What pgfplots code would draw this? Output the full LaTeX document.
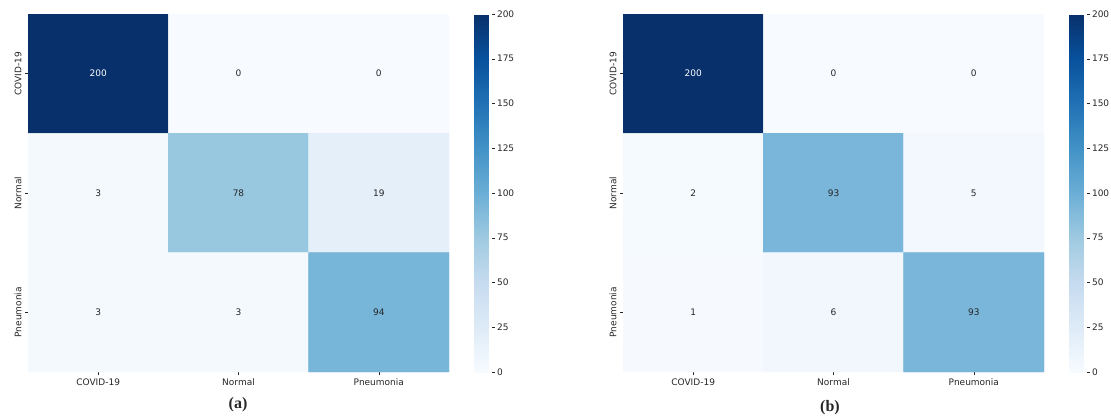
\documentclass[border=0pt]{standalone}
\usepackage{pgfplots}
\pgfplotsset{compat=1.18}
\usepackage{fontspec}
\setmainfont{DejaVu Sans}
\newfontfamily\capfont{Liberation Serif}
\definecolor{txt}{RGB}{38,38,38}
\pgfplotsset{
  colormap={blues}{rgb255=(247,251,255) rgb255=(222,235,247) rgb255=(198,219,239) rgb255=(158,202,225) rgb255=(107,174,214) rgb255=(66,146,198) rgb255=(33,113,181) rgb255=(8,81,156) rgb255=(8,48,107)},
  cm/.style={
    scale only axis, width=421bp, height=358bp,
    xmin=-0.5, xmax=2.5, ymin=-0.5, ymax=2.5, y dir=reverse,
    enlargelimits=false,
    xtick={0,1,2}, ytick={0,1,2},
    xticklabels={COVID-19,Normal,Pneumonia},
    yticklabels={COVID-19,Normal,Pneumonia},
    yticklabel style={rotate=90, anchor=south},
    tick pos=left,
    axis line style={draw=none},
    tick style={txt, line width=0.5pt}, tick align=outside, major tick length=3bp,
    font=\fontsize{9bp}{11bp}\selectfont,
    ticklabel style={text=txt},
    /pgf/number format/assume math mode=true,
    colormap name=blues, point meta min=0, point meta max=200,
    colorbar,
    colorbar style={
      at={(parent axis.north east)}, anchor=north west, xshift=17bp,
      scale only axis, width=17bp, height=358bp,
      ytick={0,25,...,200}, axis line style={draw=none},
      ytick pos=right, tick align=outside,
      tick style={txt, line width=0.5pt}, major tick length=3bp,
      font=\fontsize{9bp}{11bp}\selectfont,
      yticklabel style={text=txt, xshift=-1bp},
      /pgf/number format/assume math mode=true,
    },
    anchor=north west,
  },
  ann/.style={draw=none, mark=none, point meta=explicit, nodes near coords,
    nodes near coords align=center,
    every node near coord/.append style={font=\fontsize{9bp}{11bp}\selectfont, text=#1, anchor=center}},
}
\begin{document}
\begin{tikzpicture}
\path[use as bounding box] (0,0) rectangle (1111bp,-418bp);
\begin{axis}[cm, at={(28bp,-14bp)}]
\addplot[matrix plot*, mesh/cols=3, point meta=explicit] table[meta=c] {
x y c
0 0 200
1 0 0
2 0 0
0 1 3
1 1 78
2 1 19
0 2 3
1 2 3
2 2 94
};
\addplot[ann=white] table[meta=c] {
x y c
0 0 200
};
\addplot[ann=txt] table[meta=c] {
x y c
1 0 0
2 0 0
0 1 3
1 1 78
2 1 19
0 2 3
1 2 3
2 2 94
};
\end{axis}
\begin{axis}[cm, at={(623bp,-14bp)}]
\addplot[matrix plot*, mesh/cols=3, point meta=explicit] table[meta=c] {
x y c
0 0 200
1 0 0
2 0 0
0 1 2
1 1 93
2 1 5
0 2 1
1 2 6
2 2 93
};
\addplot[ann=white] table[meta=c] {
x y c
0 0 200
};
\addplot[ann=txt] table[meta=c] {
x y c
1 0 0
2 0 0
0 1 2
1 1 93
2 1 5
0 2 1
1 2 6
2 2 93
};
\end{axis}
\node[font=\capfont\bfseries\fontsize{16bp}{18bp}\selectfont, text=txt] at (238bp,-405bp) {(a)};
\node[font=\capfont\bfseries\fontsize{16bp}{18bp}\selectfont, text=txt] at (830bp,-408bp) {(b)};
\end{tikzpicture}
\end{document}
